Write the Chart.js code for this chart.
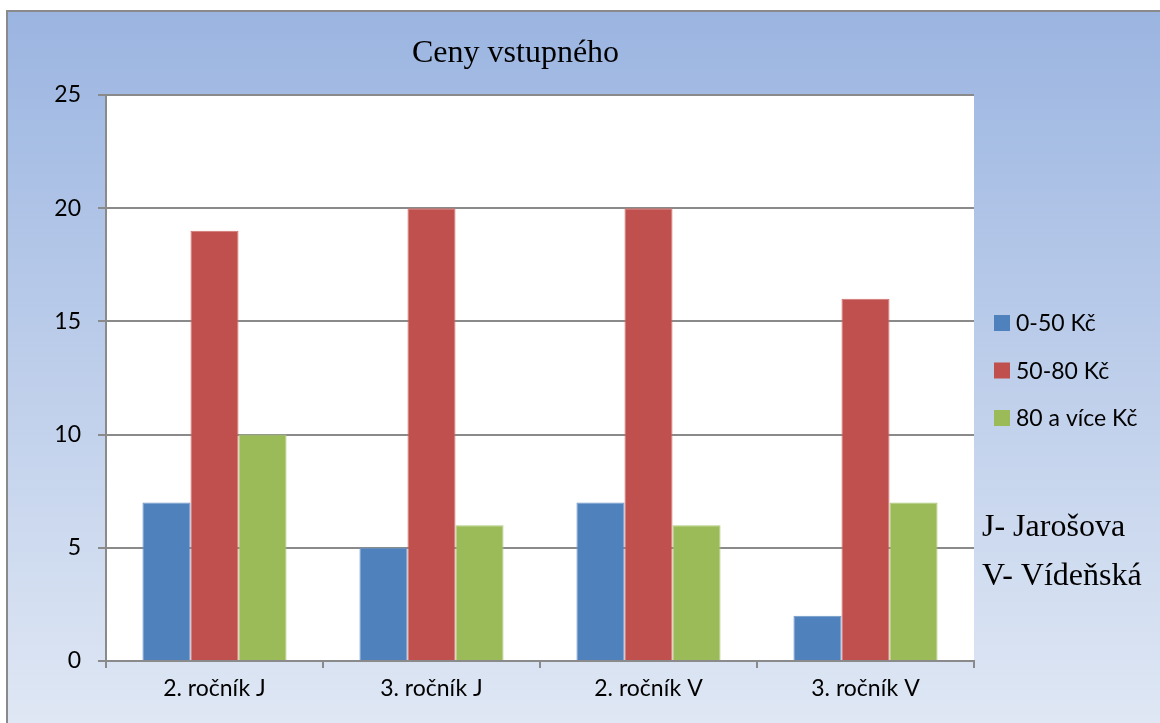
<!DOCTYPE html>
<html>
<head>
<meta charset="utf-8">
<script src="https://cdn.jsdelivr.net/npm/chart.js@4"></script>
<style>
  body { margin: 0; background: #fff; }
  canvas { display: block; }
</style>
</head>
<body>
<canvas id="chartCeny" width="1160" height="723"></canvas>
<script>
const kategorie = ['2. ročník J', '3. ročník J', '2. ročník V', '3. ročník V'];
const serieNazvy = ['0-50 Kč', '50-80 Kč', '80 a více Kč'];
const cena0_50 = [7, 5, 7, 2];
const cena50_80 = [19, 20, 20, 16];
const cena80 = [10, 6, 6, 7];
const poznamky = ['J- Jarošova', 'V- Vídeňská'];
const nadpis = 'Ceny vstupného';

const barvy = ['#4F81BD', '#C0504D', '#9BBB59'];
const okraje = ['#6f97c9', '#cf716e', '#b0ca7a'];
const seda = '#8a8a8a';
const sansFont = 'Lato, "Liberation Sans", sans-serif';
const serifFont = '"Liberation Serif", "DejaVu Serif", serif';

// pozadi, ramecek, nadpis, legenda a poznamky
const pozadiPlugin = {
    id: 'pozadi',
    beforeDraw(chart) {
        const c = chart.ctx;
        const area = chart.chartArea;
        c.save();
        c.fillStyle = '#ffffff';
        c.fillRect(0, 0, chart.width, chart.height);
        const g = c.createLinearGradient(0, 11, 0, chart.height);
        g.addColorStop(0, '#9bb5e1');
        g.addColorStop(1, '#dfe7f4');
        c.fillStyle = g;
        c.fillRect(7, 11, chart.width - 7, chart.height - 11);
        c.strokeStyle = seda;
        c.lineWidth = 2;
        c.beginPath();
        c.moveTo(7, chart.height);
        c.lineTo(7, 11);
        c.lineTo(chart.width, 11);
        c.stroke();
        c.fillStyle = '#ffffff';
        c.fillRect(area.left, area.top, area.right - area.left, area.bottom - area.top);
        c.restore();
    },
    afterDraw(chart) {
        const c = chart.ctx;
        c.save();
        c.fillStyle = '#000';
        c.textBaseline = 'alphabetic';
        c.textAlign = 'left';
        c.font = '32px ' + serifFont;
        c.fillText(nadpis, 412, 62);

        // legenda
        c.font = '23px ' + sansFont;
        c.textBaseline = 'middle';
        chart.data.datasets.forEach((ds, i) => {
            const y = 323 + i * 47.5;
            c.fillStyle = ds.backgroundColor;
            c.fillRect(994, y - 8, 16, 16);
            c.fillStyle = '#000';
            c.fillText(ds.label, 1016, y + 1);
        });

        c.font = '32px ' + serifFont;
        c.textBaseline = 'alphabetic';
        poznamky.forEach((t, i) => {
            c.fillText(t, 982, 536 + i * 49);
        });
        c.restore();
    }
};

new Chart(document.getElementById('chartCeny').getContext('2d'), {
    type: 'bar',
    data: {
        labels: kategorie,
        datasets: [
            {label: serieNazvy[0], data: cena0_50, backgroundColor: barvy[0], borderColor: okraje[0], borderWidth: 1},
            {label: serieNazvy[1], data: cena50_80, backgroundColor: barvy[1], borderColor: okraje[1], borderWidth: 1},
            {label: serieNazvy[2], data: cena80, backgroundColor: barvy[2], borderColor: okraje[2], borderWidth: 1},
        ],
    },
    options: {
        responsive: false,
        animation: false,
        layout: {
            padding: {left: 10, top: 95, right: 186, bottom: 0}
        },
        datasets: {
            bar: {categoryPercentage: 0.664, barPercentage: 1}
        },
        plugins: {
            legend: {display: false},
            title: {display: false},
            tooltip: {enabled: false}
        },
        scales: {
            x: {
                offset: true,
                grid: {drawOnChartArea: false, drawTicks: true, tickLength: 7, color: seda, lineWidth: 2, offset: true},
                border: {display: true, color: seda, width: 2},
                ticks: {font: {family: sansFont, size: 23}, color: '#000', padding: 7},
                afterFit(scale) { scale.height = 62; }
            },
            y: {
                min: 0,
                max: 25,
                ticks: {stepSize: 5, font: {family: sansFont, size: 23}, color: '#000', padding: 17},
                grid: {color: seda, lineWidth: 2, tickLength: 8},
                border: {display: true, color: seda, width: 2},
                afterFit(scale) { scale.width = 96; }
            }
        }
    },
    plugins: [pozadiPlugin]
});
</script>
</body>
</html>
